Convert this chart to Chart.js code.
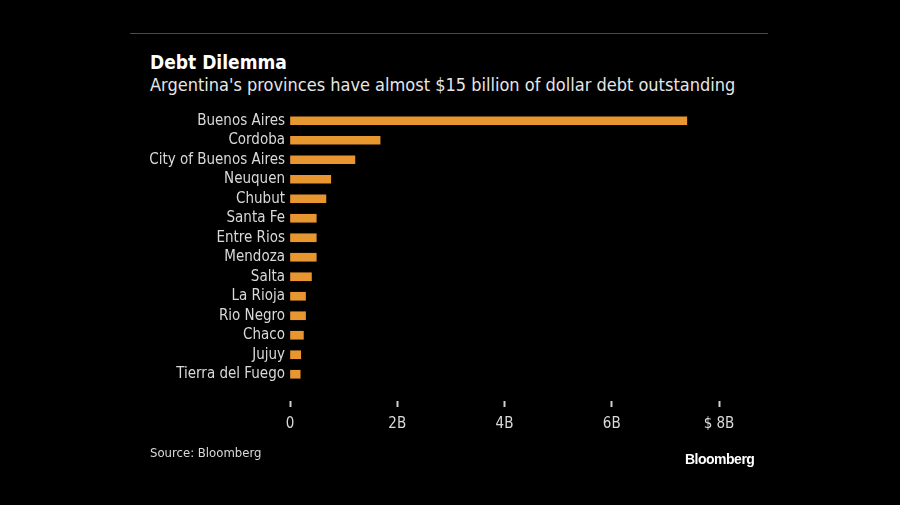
<!DOCTYPE html>
<html>
<head>
<meta charset="utf-8">
<script src="https://cdn.jsdelivr.net/npm/chart.js@4"></script>
<style>
  body { margin: 0; background: #000; }
  #wrap { position: relative; width: 900px; height: 505px; background: #000; overflow: hidden; }
  #chartBox { position: absolute; left: 0; top: 0; width: 900px; height: 505px; }
  .rule { position: absolute; left: 130px; top: 33px; width: 638px; height: 1px; background: #4a4a4a; }
  .txt { position: absolute; font-family: "DejaVu Sans Condensed", "DejaVu Sans", sans-serif; white-space: nowrap; }
  #title { left: 150px; top: 51px; font-size: 19px; font-weight: bold; color: #fff; }
  #subtitle { left: 150px; top: 74px; font-size: 18px; color: #e6e6e6; }
  #source { left: 150px; top: 445px; font-size: 13px; color: #d9d9d9; }
  #logo { left: 685px; top: 451px; font-size: 14px; font-weight: bold; color: #fff; letter-spacing: -0.5px; font-family: "Liberation Sans", Arial, sans-serif; }
</style>
</head>
<body>
<div id="wrap">
  <div class="rule"></div>
  <div class="txt" id="title">Debt Dilemma</div>
  <div class="txt" id="subtitle">Argentina's provinces have almost $15 billion of dollar debt outstanding</div>
  <div id="chartBox"><canvas id="debtChart"></canvas></div>
  <div class="txt" id="source">Source: Bloomberg</div>
  <div class="txt" id="logo">Bloomberg</div>
</div>
<script>
// provinces, top to bottom
const provinces = ['Buenos Aires', 'Cordoba', 'City of Buenos Aires', 'Neuquen', 'Chubut', 'Santa Fe',
  'Entre Rios', 'Mendoza', 'Salta', 'La Rioja', 'Rio Negro', 'Chaco', 'Jujuy', 'Tierra del Fuego'];
// dollar debt outstanding, billions
const debtBillions = [7.40, 1.68, 1.21, 0.76, 0.67, 0.49, 0.49, 0.49, 0.40, 0.29, 0.29, 0.25, 0.20, 0.19];
const xTickValues = [0, 2, 4, 6, 8];
const xTickLabels = ['0', '2B', '4B', '6B', '$ 8B'];

const labelFont = { family: '"DejaVu Sans Condensed", "DejaVu Sans", sans-serif', size: 15 };

new Chart(document.getElementById('debtChart').getContext('2d'), {
  type: 'bar',
  data: {
    labels: provinces,
    datasets: [{
      label: 'Dollar debt',
      data: debtBillions,
      backgroundColor: '#e8962f',
      borderWidth: 0,
      barThickness: 8
    }]
  },
  options: {
    indexAxis: 'y',
    responsive: true,
    maintainAspectRatio: false,
    animation: false,
    layout: { padding: { left: 0, right: 181, top: 111, bottom: 75 } },
    plugins: { legend: { display: false }, tooltip: { enabled: false } },
    scales: {
      x: {
        min: 0,
        max: 8,
        afterFit: (scale) => { scale.height = 46; },
        afterBuildTicks: (scale) => { scale.ticks = xTickValues.map(v => ({ value: v })); },
        border: { display: false },
        grid: {
          drawOnChartArea: false,
          drawTicks: true,
          tickLength: 23,
          tickColor: '#cfcfcf',
          tickWidth: 2,
          tickBorderDash: [6, 17],
          tickBorderDashOffset: 6
        },
        ticks: {
          color: '#d9d9d9',
          font: labelFont,
          padding: 8,
          maxRotation: 0,
          callback: (value) => xTickLabels[xTickValues.indexOf(value)]
        }
      },
      y: {
        afterFit: (scale) => { scale.width = 290; },
        border: { display: false },
        grid: { display: false, drawTicks: false },
        ticks: { color: '#d9d9d9', font: labelFont, padding: 5, autoSkip: false }
      }
    }
  }
});
</script>
</body>
</html>
